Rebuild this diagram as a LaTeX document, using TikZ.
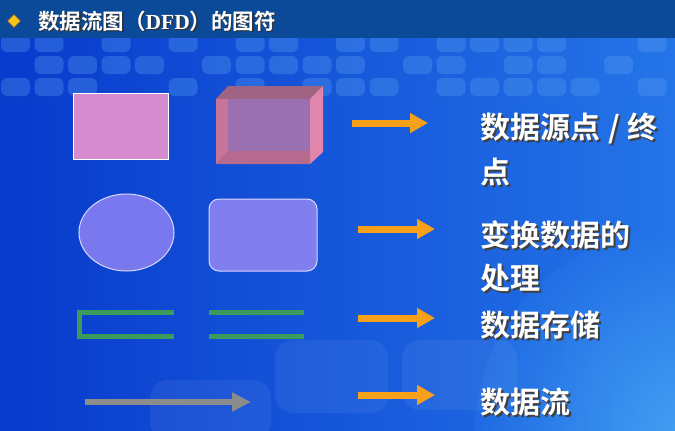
\documentclass[tikz,border=0pt]{standalone}
\usepackage{fontspec}
\newfontfamily\cjk{Noto Sans CJK SC}[BoldFont={Noto Sans CJK SC Bold}]
\newfontfamily\latinserif{Liberation Serif}
\usetikzlibrary{arrows.meta,shapes.geometric}

\definecolor{headerblue}{RGB}{10,74,152}
\definecolor{bgleft}{RGB}{8,58,204}
\definecolor{bgright}{RGB}{36,116,232}
\definecolor{tileblue}{RGB}{90,160,240}
\definecolor{bullet}{RGB}{248,194,28}
\definecolor{entitypink}{RGB}{212,140,206}
\definecolor{cubefront}{RGB}{198,116,154}
\definecolor{cubeback}{RGB}{154,112,176}
\definecolor{cubetop}{RGB}{158,100,130}
\definecolor{cuberight}{RGB}{224,133,172}
\definecolor{procfill}{RGB}{122,120,238}
\definecolor{storegreen}{RGB}{58,155,92}
\definecolor{flowgray}{RGB}{140,140,140}
\definecolor{pointer}{RGB}{247,160,26}

% white text with a dark drop shadow, set in one box
\newcommand{\shadowed}[3]{%
  \rlap{\kern#2\raisebox{-#2}{\color{#3}#1}}#1}

\tikzset{
  tile/.style={fill=tileblue, fill opacity=0.33, rounded corners=6pt},
  haze/.style={fill=white, fill opacity=0.06, rounded corners=18pt},
  labeltext/.style={text=white, inner sep=0pt, anchor=base west,
    font=\cjk\bfseries\fontsize{30}{36}\selectfont},
  titletext/.style={text=white, inner sep=0pt, anchor=base west,
    font=\cjk\bfseries\fontsize{21.5}{26}\selectfont},
  pointerarrow/.style={draw=pointer, line width=7pt,
    -{Triangle[length=18pt,width=19pt]}},
  flowarrow/.style={draw=flowgray, line width=6.5pt,
    -{Triangle[length=19pt,width=18pt]}},
  storeline/.style={draw=storegreen, line width=5pt},
}

\begin{document}
\begin{tikzpicture}[x=1pt,y=-1pt]
\useasboundingbox (0,0) rectangle (675,431);

% slide background
\shade[left color=bgleft, right color=bgright] (0,0) rectangle (675,431);
\shade[inner color=cyan!70!blue!60, outer color=bgright, opacity=0.45]
  (675,431) circle (200);

% band of rounded tiles under the header
\foreach \k in {0,1,3,5,7,8,10,11,13,14,15,16,19}
  \fill[tile] ({1+33.5*\k},35) rectangle +(29,17);
\foreach \k in {1,2,3,4,6,7,8,9,10,12,13,15,16,18}
  \fill[tile] ({1+33.5*\k},56) rectangle +(29,18);
\foreach \k in {0,1,2,5,7,9,10,11,13,14,15,16,17,19}
  \fill[tile] ({1+33.5*\k},78) rectangle +(29,18);

% faint large panels near the bottom
\fill[haze] (275,340) rectangle (388,413);
\fill[haze] (402,340) rectangle (517,410);
\fill[haze] (150,380) rectangle (271,440);

% header bar
\fill[headerblue] (0,0) rectangle (675,38);
\node[diamond, fill=bullet, draw=orange!80!black, line width=0.4pt,
  minimum width=13pt, minimum height=13pt, inner sep=0pt] (bulletmark) at (14,21) {};
\node[titletext] (titletext) at (38,29)
  {\shadowed{数据流图（{\latinserif\bfseries DFD}）的图符}{1.5pt}{black!80}};

% external entity (source / sink)
\node[draw=white, line width=1pt, fill=entitypink, inner sep=0pt,
  minimum width=95pt, minimum height=66pt] (entity) at (120.5,126) {};

% entity drawn as a transparent box
\fill[cubeback] (228,86) rectangle (323,151);
\fill[cubetop] (216,99) -- (228,86) -- (323,86) -- (310,99) -- cycle;
\fill[cuberight] (310,99) -- (323,86) -- (323,152) -- (310,164) -- cycle;
\fill[cubefront] (216,99) rectangle (310,164);
\fill[cubeback] (228,99) rectangle (310,151);
\fill[cubefront!92!black] (216,164) -- (228,151) -- (310,151) -- (310,164) -- cycle;
\coordinate (cube) at (269,125);

% processes
\node[ellipse, draw=white!85!blue, line width=1pt, fill=procfill,
  minimum width=95pt, minimum height=77pt, inner sep=0pt] (procellipse) at (126.5,232.5) {};
\node[draw=white!85!blue, line width=1pt, fill=procfill!95!white,
  rounded corners=10pt, minimum width=108pt, minimum height=72pt,
  inner sep=0pt] (procbox) at (263,235) {};

% data stores
\draw[storeline] (174,312.5) -- (79,312.5) -- (79,336.5) -- (174,336.5);
\draw[storeline] (209,312.5) -- (304,312.5);
\draw[storeline] (209,336.5) -- (304,336.5);

% data flow
\coordinate (flowstart) at (85,402);
\coordinate (flowend) at (251,402);
\draw[flowarrow] (flowstart) -- (flowend);

% pointers to the meanings
\coordinate (p1s) at (352,123); \coordinate (p1e) at (428,123);
\coordinate (p2s) at (358,229); \coordinate (p2e) at (435,229);
\coordinate (p3s) at (358,318); \coordinate (p3e) at (435,318);
\coordinate (p4s) at (358,395); \coordinate (p4e) at (435,395);
\draw[pointerarrow] (p1s) -- (p1e);
\draw[pointerarrow] (p2s) -- (p2e);
\draw[pointerarrow] (p3s) -- (p3e);
\draw[pointerarrow] (p4s) -- (p4e);

% meanings
\node[labeltext] (l1a) at (480,138) {\shadowed{数据源点\kern8pt/\kern8pt终}{2pt}{black!75}};
\node[labeltext] (l1b) at (480,183) {\shadowed{点}{2pt}{black!75}};
\node[labeltext] (l2a) at (480,246) {\shadowed{变换数据的}{2pt}{black!75}};
\node[labeltext] (l2b) at (480,289) {\shadowed{处理}{2pt}{black!75}};
\node[labeltext] (l3)  at (480,336) {\shadowed{数据存储}{2pt}{black!75}};
\node[labeltext] (l4)  at (480,413) {\shadowed{数据流}{2pt}{black!75}};
\end{tikzpicture}
\end{document}
